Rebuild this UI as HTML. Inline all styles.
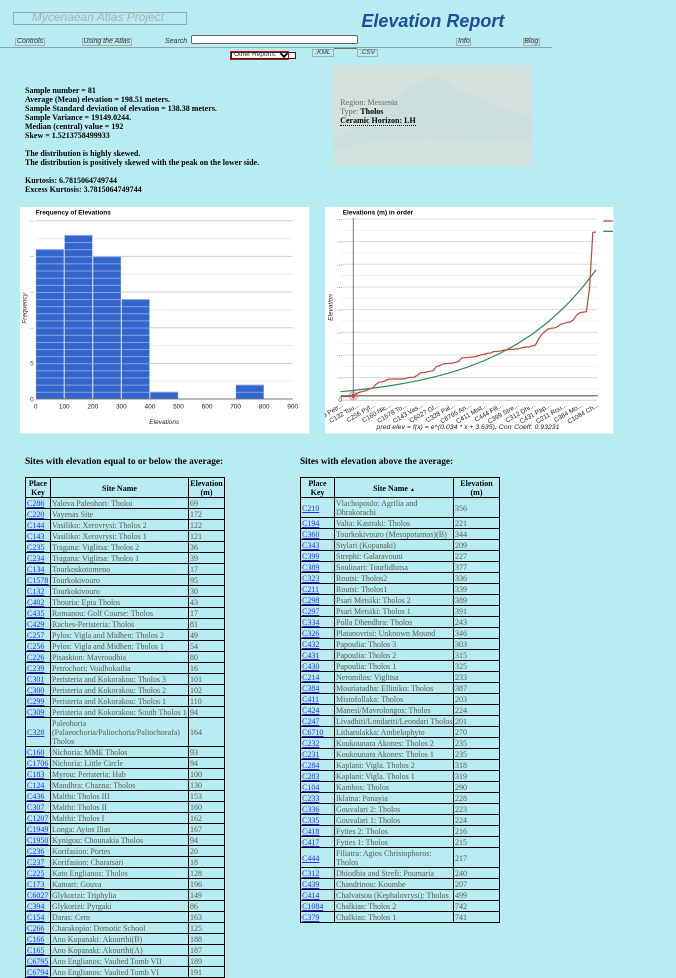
<!DOCTYPE html>
<html><head><meta charset="utf-8">
<style>
body{margin:0;width:676px;height:972px;overflow:hidden;background:#b7edf2;position:relative;font-family:"Liberation Serif",serif;}
.a{position:absolute;}
.btn{position:absolute;box-sizing:border-box;height:8.3px;border:1px solid #a3aeb0;font:italic 7px/6.3px "Liberation Sans",sans-serif;color:#333;text-align:center;white-space:nowrap;}
table.t{position:absolute;border-collapse:collapse;table-layout:fixed;font-family:"Liberation Serif",serif;font-size:8px;}
.t th,.t td{border:1px solid #000;padding:1px 1px 0 1px;line-height:9px;white-space:nowrap;overflow:hidden;vertical-align:middle;}
.t th{font-weight:bold;color:#000;text-align:center;}
.t td{color:#5d5848;text-align:left;}
.t td a{color:#2b2bee;text-decoration:underline;}
.h{position:absolute;font:bold 9.3px/10px "Liberation Serif",serif;color:#000;white-space:nowrap;}
</style></head><body>

<svg class="a" style="left:0;top:0" width="676" height="972" xmlns="http://www.w3.org/2000/svg">
<defs>
<pattern id="hb" patternUnits="userSpaceOnUse" x="0" y="399" width="300" height="7.13">
<rect x="0" y="0" width="300" height="7.13" fill="#3366cc"/>
<rect x="0" y="0" width="300" height="0.7" fill="#a3b9ea"/>
</pattern>
<clipPath id="cl"><rect x="325" y="207" width="288.3" height="226.3"/></clipPath>
</defs>

<!-- stats image -->
<rect x="333" y="65" width="199" height="101" fill="#d5e1dd"/>
<polygon points="333,140 352,128 372,112 392,100 410,86 425,80 437,74 448,82 462,92 478,98 495,104 512,110 532,116 532,166 333,166" fill="#c9dedc" opacity="0.8"/>
<polygon points="333,150 380,140 430,138 480,142 532,138 532,166 333,166" fill="#d2e2de" opacity="0.8"/>

<!-- histogram -->
<rect x="20" y="207" width="289.3" height="226.3" fill="#fff"/>
<g stroke-width="1">
<line x1="35.7" x2="292.7" y1="381.18" y2="381.18" stroke="#ececec"/>
<line x1="35.7" x2="292.7" y1="363.35" y2="363.35" stroke="#cfcfcf"/>
<line x1="35.7" x2="292.7" y1="345.53" y2="345.53" stroke="#ececec"/>
<line x1="35.7" x2="292.7" y1="327.7" y2="327.7" stroke="#cfcfcf"/>
<line x1="35.7" x2="292.7" y1="309.88" y2="309.88" stroke="#ececec"/>
<line x1="35.7" x2="292.7" y1="292.05" y2="292.05" stroke="#cfcfcf"/>
<line x1="35.7" x2="292.7" y1="274.23" y2="274.23" stroke="#ececec"/>
<line x1="35.7" x2="292.7" y1="256.4" y2="256.4" stroke="#cfcfcf"/>
<line x1="35.7" x2="292.7" y1="238.58" y2="238.58" stroke="#ececec"/>
<line x1="35.7" x2="292.7" y1="220.75" y2="220.75" stroke="#cfcfcf"/>
</g>
<g fill="url(#hb)" stroke="#a9bde9" stroke-width="0.4">
<rect x="36" y="249.27" width="27.8" height="149.73"/>
<rect x="64.56" y="235.01" width="27.8" height="163.99"/>
<rect x="93.12" y="256.4" width="27.8" height="142.6"/>
<rect x="121.68" y="299.18" width="27.8" height="99.82"/>
<rect x="150.24" y="391.87" width="27.8" height="7.13"/>
<rect x="235.92" y="384.74" width="27.8" height="14.26"/>
</g>
<line x1="35.7" x2="292.7" y1="399" y2="399" stroke="#777" stroke-width="1"/>
<g font-family="Liberation Sans, sans-serif" font-size="6.5" fill="#222" text-anchor="middle">
<text x="35.7" y="408.3">0</text><text x="64.26" y="408.3">100</text><text x="92.82" y="408.3">200</text>
<text x="121.38" y="408.3">300</text><text x="149.94" y="408.3">400</text><text x="178.5" y="408.3">500</text>
<text x="207.06" y="408.3">600</text><text x="235.62" y="408.3">700</text><text x="264.18" y="408.3">800</text>
<text x="292.74" y="408.3">900</text>
</g>
<g font-family="Liberation Sans, sans-serif" font-size="6.5" fill="#444" text-anchor="end">
<text x="33.8" y="401.3">0</text><text x="33.8" y="365.6">5</text>
<text x="33.8" y="328.4">..</text><text x="33.8" y="292.7">..</text><text x="33.8" y="257.1">..</text><text x="33.8" y="221.4">..</text>
</g>
<text x="35.7" y="214.7" font-family="Liberation Sans, sans-serif" font-size="6.5" font-weight="bold" fill="#000">Frequency of Elevations</text>
<text x="164.3" y="424" font-family="Liberation Sans, sans-serif" font-size="6.5" font-style="italic" fill="#222" text-anchor="middle">Elevations</text>
<text transform="translate(26.3,308.3) rotate(-90)" font-family="Liberation Sans, sans-serif" font-size="6.5" font-style="italic" fill="#222" text-anchor="middle">Frequency</text>

<!-- line chart -->
<rect x="325" y="207" width="288.3" height="226.3" fill="#fff"/>
<g stroke-width="1">
<line x1="340.7" x2="597.7" y1="388.97" y2="388.97" stroke="#f1f1f1"/>
<line x1="340.7" x2="597.7" y1="377.63" y2="377.63" stroke="#dcdcdc"/>
<line x1="340.7" x2="597.7" y1="366.3" y2="366.3" stroke="#f1f1f1"/>
<line x1="340.7" x2="597.7" y1="354.96" y2="354.96" stroke="#dcdcdc"/>
<line x1="340.7" x2="597.7" y1="343.63" y2="343.63" stroke="#f1f1f1"/>
<line x1="340.7" x2="597.7" y1="332.29" y2="332.29" stroke="#dcdcdc"/>
<line x1="340.7" x2="597.7" y1="320.96" y2="320.96" stroke="#f1f1f1"/>
<line x1="340.7" x2="597.7" y1="309.62" y2="309.62" stroke="#dcdcdc"/>
<line x1="340.7" x2="597.7" y1="298.29" y2="298.29" stroke="#f1f1f1"/>
<line x1="340.7" x2="597.7" y1="286.95" y2="286.95" stroke="#dcdcdc"/>
<line x1="340.7" x2="597.7" y1="275.62" y2="275.62" stroke="#f1f1f1"/>
<line x1="340.7" x2="597.7" y1="264.28" y2="264.28" stroke="#dcdcdc"/>
<line x1="340.7" x2="597.7" y1="252.95" y2="252.95" stroke="#f1f1f1"/>
<line x1="340.7" x2="597.7" y1="241.61" y2="241.61" stroke="#dcdcdc"/>
<line x1="340.7" x2="597.7" y1="230.28" y2="230.28" stroke="#f1f1f1"/>
<line x1="340.7" x2="597.7" y1="218.94" y2="218.94" stroke="#dcdcdc"/>
<line x1="340.7" x2="597.7" y1="400.3" y2="400.3" stroke="#cccccc"/>
</g>
<g font-family="Liberation Sans, sans-serif" font-size="6.5" fill="#444" text-anchor="end">
<text x="342" y="401.8">0</text>
<text x="342" y="378.6">...</text><text x="342" y="356">...</text><text x="342" y="333.3">...</text><text x="342" y="310.6">...</text>
<text x="342" y="288">...</text><text x="342" y="265.3">...</text><text x="342" y="242.6">...</text><text x="342" y="219.9">...</text>
</g>
<line x1="353.3" x2="353.3" y1="218" y2="399" stroke="#777" stroke-width="1"/>
<g transform="translate(340.57,400.3) scale(3.193,-0.2267)" fill="none">
<polyline vector-effect="non-scaling-stroke" stroke="#2f8a55" stroke-width="1.2" points="0,37.9 5,44.92 10,53.25 15,63.11 20,74.81 25,88.67 30,105.1 35,124.58 40,147.66 45,175.02 50,207.45 55,245.89 60,291.45 65,345.46 70,409.47 72,438.2 75,485.34 77,519.6 80,575.27"/>
<polyline vector-effect="non-scaling-stroke" stroke="#c0483a" stroke-width="1.2" stroke-linejoin="round" points="0,16 1,17 2,17 3,18 4,20 5,30 6,36 7,39 8,43 9,49 10,54 11,69 12,80 13,81 14,86 15,93 16,94 17,94 18,94 19,94 20,95 21,100 22,101 23,102 24,110 25,121 26,122 27,125 28,128 29,130 30,149 31,153 32,160 33,162 34,163 35,164 36,167 37,172 38,187 39,188 40,189 41,191 42,192 43,196 44,201 45,203 46,207 47,209 48,215 49,216 50,217 51,221 52,223 53,224 54,224 55,227 56,228 57,233 58,235 59,235 60,240 61,243 62,270 63,290 64,303 65,315 66,318 67,319 68,325 69,336 70,339 71,344 72,346 73,356 74,377 75,387 76,389 77,391 78,499 79,741 80,742"/>
</g>
<line x1="340.7" x2="597.7" y1="395.8" y2="395.8" stroke="#555" stroke-width="1.2"/>
<circle cx="353.3" cy="395.8" r="4" fill="none" stroke="#c0483a" stroke-opacity="0.45" stroke-width="1.4"/>
<circle cx="353.3" cy="395.8" r="2.2" fill="#c0483a"/>
<line x1="603.3" x2="613" y1="221" y2="221" stroke="#c0483a" stroke-width="1.3"/>
<line x1="603.3" x2="613" y1="231.3" y2="231.3" stroke="#2f8a55" stroke-width="1.3"/>
<text x="342.7" y="214.7" font-family="Liberation Sans, sans-serif" font-size="6.5" font-weight="bold" fill="#000">Elevations (m) in order</text>
<text transform="translate(332.5,307.5) rotate(-90)" font-family="Liberation Sans, sans-serif" font-size="6.5" font-style="italic" fill="#222" text-anchor="middle">Elevation</text>
<text x="468" y="429" font-family="Liberation Sans, sans-serif" font-size="6.3" font-style="italic" fill="#222" text-anchor="middle" textLength="183" lengthAdjust="spacingAndGlyphs">pred elev = f(x) = e^(0.034 * x + 3.635), Corr Coeff: 0.93231</text>
<g clip-path="url(#cl)" font-family="Liberation Sans, sans-serif" font-size="6.5" fill="#222" text-anchor="end">
<text transform="translate(343.6,406.5) rotate(-30)">C239 Petr...</text>
<text transform="translate(359.5,406.5) rotate(-30)">C132 Tou...</text>
<text transform="translate(375.5,406.5) rotate(-30)">C256 Pyl...</text>
<text transform="translate(391.5,406.5) rotate(-30)">C160 Nic...</text>
<text transform="translate(407.4,406.5) rotate(-30)">C1578 To...</text>
<text transform="translate(423.4,406.5) rotate(-30)">C143 Vas...</text>
<text transform="translate(439.4,406.5) rotate(-30)">C6027 Gl...</text>
<text transform="translate(455.3,406.5) rotate(-30)">C328 Pal...</text>
<text transform="translate(471.3,406.5) rotate(-30)">C6795 An...</text>
<text transform="translate(487.3,406.5) rotate(-30)">C411 Mist...</text>
<text transform="translate(503.2,406.5) rotate(-30)">C444 Fili...</text>
<text transform="translate(519.2,406.5) rotate(-30)">C399 Stre...</text>
<text transform="translate(535.2,406.5) rotate(-30)">C312 Dhi...</text>
<text transform="translate(551.1,406.5) rotate(-30)">C431 Pap...</text>
<text transform="translate(567.1,406.5) rotate(-30)">C211 Rou...</text>
<text transform="translate(583,406.5) rotate(-30)">C384 Mo...</text>
<text transform="translate(599,406.5) rotate(-30)">C1084 Ch...</text>
</g>
<!-- select chevron -->
</svg>

<!-- header -->
<div class="a" style="left:12.5px;top:11.7px;width:174px;height:13.6px;border:1px solid #98aab0;box-sizing:border-box;"></div>
<div class="a" style="left:12.5px;top:10.5px;width:171px;text-align:center;font:italic 12px/12px 'Liberation Sans',sans-serif;color:#a6b3b8;white-space:nowrap;">Mycenaean Atlas Project</div>
<div class="a" style="left:361.4px;top:12.3px;font:italic bold 18px/18px 'Liberation Sans',sans-serif;color:#1d4e9a;white-space:nowrap;">Elevation Report</div>

<div class="btn" style="left:15px;top:38px;width:30px;">Controls</div>
<div class="btn" style="left:82px;top:38px;width:49.5px;">Using the Atlas</div>
<div class="a" style="left:165px;top:38.1px;font:italic 7px/7px 'Liberation Sans',sans-serif;color:#333;">Search</div>
<div class="a" style="left:191px;top:35.3px;width:167px;height:9px;box-sizing:border-box;border:1px solid #666;border-radius:2px;background:#fff;"></div>
<div class="btn" style="left:456.4px;top:38px;width:15px;">Info</div>
<div class="btn" style="left:523px;top:38px;width:16.5px;">Blog</div>
<div class="a" style="left:0;top:47.2px;width:552px;height:1px;background:#8fa4a8;"></div>
<div class="a" style="left:334px;top:47.5px;width:23px;height:1.4px;background:#6a7072;"></div>

<div class="a" style="left:231.4px;top:51.6px;width:64.3px;height:7.8px;box-sizing:border-box;border:1px solid #222;background:#fff;"></div>
<div class="a" style="left:230.4px;top:51px;width:59px;height:9.3px;box-sizing:border-box;border:1.7px solid #e00000;"></div>
<div class="a" style="left:234px;top:52px;font:6.5px/6.5px 'Liberation Sans',sans-serif;color:#333;white-space:nowrap;">Other Reports:</div>
<svg class="a" style="left:279px;top:52px" width="11" height="7"><polyline points="1.5,1.2 5,4.8 8.5,1.2" fill="none" stroke="#000" stroke-width="1.8"/></svg>
<div class="btn" style="left:311.8px;top:49px;width:22.2px;font-size:6.5px;">.KML</div>
<div class="btn" style="left:357px;top:49px;width:21px;font-size:6.5px;">.CSV</div>

<!-- stats -->
<div class="a" style="left:25px;top:86.3px;font:bold 8px/9px 'Liberation Serif',serif;color:#000;white-space:nowrap;">Sample number = 81<br>Average (Mean) elevation = 198.51 meters.<br>Sample Standard deviation of elevation = 138.38 meters.<br>Sample Variance = 19149.0244.<br>Median (central) value = 192<br>Skew = 1.5213758499933<br><br>The distribution is highly skewed.<br>The distribution is positively skewed with the peak on the lower side.<br><br>Kurtosis: 6.7815064749744<br>Excess Kurtosis: 3.7815064749744</div>

<div class="a" style="left:340.2px;top:97.6px;font:8px/9px 'Liberation Serif',serif;color:#666;white-space:nowrap;">Region: Messenia<br>Type: <b style="color:#000">Tholos</b><br><b style="color:#000;border-bottom:1px dotted #000;">Ceramic Horizon: LH</b></div>

<!-- tables -->
<div class="h" style="left:25px;top:456.5px;">Sites with elevation equal to or below the average:</div>
<div class="h" style="left:300px;top:456.5px;">Sites with elevation above the average:</div>

<table class="t" style="left:25px;top:477px;width:199px;">
<colgroup><col style="width:25px"><col style="width:138px"><col style="width:36px"></colgroup>
<tr><th>Place<br>Key</th><th>Site Name</th><th>Elevation<br>(m)</th></tr>
<tr><td><a>C286</a></td><td>Yalova Paleohori: Tholoi</td><td>69</td></tr>
<tr><td><a>C220</a></td><td>Vayenas Site</td><td>172</td></tr>
<tr><td><a>C144</a></td><td>Vasiliko: Xerovrysi: Tholos 2</td><td>122</td></tr>
<tr><td><a>C143</a></td><td>Vasiliko: Xerovrysi: Tholos 1</td><td>121</td></tr>
<tr><td><a>C235</a></td><td>Tragana: Viglitsa: Tholos 2</td><td>36</td></tr>
<tr><td><a>C234</a></td><td>Tragana: Viglitsa: Tholos 1</td><td>39</td></tr>
<tr><td><a>C134</a></td><td>Tourkoskotomeno</td><td>17</td></tr>
<tr><td><a>C1578</a></td><td>Tourkokivouro</td><td>95</td></tr>
<tr><td><a>C132</a></td><td>Tourkokivouro</td><td>30</td></tr>
<tr><td><a>C402</a></td><td>Thouria: Epia Tholos</td><td>43</td></tr>
<tr><td><a>C435</a></td><td>Romanou: Golf Course: Tholos</td><td>17</td></tr>
<tr><td><a>C429</a></td><td>Raches-Peristeria: Tholos</td><td>81</td></tr>
<tr><td><a>C257</a></td><td>Pylos: Vigla and Midhen: Tholos 2</td><td>49</td></tr>
<tr><td><a>C256</a></td><td>Pylos: Vigla and Midhen: Tholos 1</td><td>54</td></tr>
<tr><td><a>C226</a></td><td>Pisaskion: Mavroudhia</td><td>80</td></tr>
<tr><td><a>C239</a></td><td>Petrochori: Voidhokoilia</td><td>16</td></tr>
<tr><td><a>C301</a></td><td>Peristeria and Kokorakou: Tholos 3</td><td>101</td></tr>
<tr><td><a>C300</a></td><td>Peristeria and Kokorakou: Tholos 2</td><td>102</td></tr>
<tr><td><a>C299</a></td><td>Peristeria and Kokorakou: Tholos 1</td><td>110</td></tr>
<tr><td><a>C309</a></td><td>Peristeria and Kokorakou: South Tholos 1</td><td>94</td></tr>
<tr><td><a>C328</a></td><td>Paleohoria<br>(Palaeochoria/Paliochoria/Paliochorafa)<br>Tholos</td><td>164</td></tr>
<tr><td><a>C160</a></td><td>Nichoria: MME Tholos</td><td>93</td></tr>
<tr><td><a>C1706</a></td><td>Nichoria: Little Circle</td><td>94</td></tr>
<tr><td><a>C183</a></td><td>Myrou: Peristeria: Hab</td><td>100</td></tr>
<tr><td><a>C124</a></td><td>Mandhra: Chazna: Tholos</td><td>130</td></tr>
<tr><td><a>C436</a></td><td>Malthi: Tholos III</td><td>153</td></tr>
<tr><td><a>C307</a></td><td>Malthi: Tholos II</td><td>160</td></tr>
<tr><td><a>C1207</a></td><td>Malthi: Tholos I</td><td>162</td></tr>
<tr><td><a>C1949</a></td><td>Longa: Ayios Ilias</td><td>167</td></tr>
<tr><td><a>C1950</a></td><td>Kynigou: Chounakia Tholos</td><td>94</td></tr>
<tr><td><a>C236</a></td><td>Korifasion: Portes</td><td>20</td></tr>
<tr><td><a>C237</a></td><td>Korifasion: Charatsari</td><td>18</td></tr>
<tr><td><a>C225</a></td><td>Kato Englianos: Tholos</td><td>128</td></tr>
<tr><td><a>C173</a></td><td>Kamari: Gouva</td><td>196</td></tr>
<tr><td><a>C6027</a></td><td>Glykorizi: Triphylia</td><td>149</td></tr>
<tr><td><a>C394</a></td><td>Glykorizi: Pyrgaki</td><td>86</td></tr>
<tr><td><a>C154</a></td><td>Daras: Cem</td><td>163</td></tr>
<tr><td><a>C266</a></td><td>Charakopio: Demotic School</td><td>125</td></tr>
<tr><td><a>C166</a></td><td>Ano Kopanaki: Akourthi(B)</td><td>188</td></tr>
<tr><td><a>C165</a></td><td>Ano Kopanaki: Akourthi(A)</td><td>187</td></tr>
<tr><td><a>C6795</a></td><td>Ano Englianos: Vaulted Tomb VII</td><td>189</td></tr>
<tr><td><a>C6794</a></td><td>Ano Englianos: Vaulted Tomb VI</td><td>191</td></tr>
</table>

<table class="t" style="left:300px;top:477px;width:199px;">
<colgroup><col style="width:34px"><col style="width:119px"><col style="width:46px"></colgroup>
<tr><th>Place<br>Key</th><th>Site Name <span style="font-size:5px;line-height:0;">&#9650;</span></th><th>Elevation<br>(m)</th></tr>
<tr><td><a>C210</a></td><td>Vlachopoulo: Agrilia and<br>Dhrakorachi</td><td>356</td></tr>
<tr><td><a>C194</a></td><td>Valta: Kastraki: Tholos</td><td>221</td></tr>
<tr><td><a>C360</a></td><td>Tourkokivouro (Mesopotamos)(B)</td><td>344</td></tr>
<tr><td><a>C343</a></td><td>Stylari (Kopanaki)</td><td>209</td></tr>
<tr><td><a>C399</a></td><td>Strephi: Galaravouni</td><td>227</td></tr>
<tr><td><a>C389</a></td><td>Soulinari: Tourlidhitsa</td><td>377</td></tr>
<tr><td><a>C323</a></td><td>Routsi: Tholos2</td><td>336</td></tr>
<tr><td><a>C211</a></td><td>Routsi: Tholos1</td><td>339</td></tr>
<tr><td><a>C298</a></td><td>Psari Metsiki: Tholos 2</td><td>389</td></tr>
<tr><td><a>C297</a></td><td>Psari Metsiki: Tholos 1</td><td>391</td></tr>
<tr><td><a>C334</a></td><td>Polla Dhendhra: Tholos</td><td>243</td></tr>
<tr><td><a>C326</a></td><td>Platanovrisi: Unknown Mound</td><td>346</td></tr>
<tr><td><a>C432</a></td><td>Papoulia: Tholos 3</td><td>303</td></tr>
<tr><td><a>C431</a></td><td>Papoulia: Tholos 2</td><td>315</td></tr>
<tr><td><a>C430</a></td><td>Papoulia: Tholos 1</td><td>325</td></tr>
<tr><td><a>C214</a></td><td>Neromilos: Viglitsa</td><td>233</td></tr>
<tr><td><a>C384</a></td><td>Mouriatadha: Elliniko: Tholos</td><td>387</td></tr>
<tr><td><a>C411</a></td><td>Mistofollaka: Tholos</td><td>203</td></tr>
<tr><td><a>C424</a></td><td>Manesi/Mavrolongos: Tholos</td><td>224</td></tr>
<tr><td><a>C247</a></td><td>Livadhiti/Londariti/Leondari Tholos</td><td>201</td></tr>
<tr><td><a>C6710</a></td><td>Litharolakka: Ambelophyto</td><td>270</td></tr>
<tr><td><a>C232</a></td><td>Koukounara Akones: Tholos 2</td><td>235</td></tr>
<tr><td><a>C231</a></td><td>Koukounara Akones: Tholos 1</td><td>235</td></tr>
<tr><td><a>C284</a></td><td>Kaplani: Vigla. Tholos 2</td><td>318</td></tr>
<tr><td><a>C283</a></td><td>Kaplani: Vigla. Tholos 1</td><td>319</td></tr>
<tr><td><a>C104</a></td><td>Kambos: Tholos</td><td>290</td></tr>
<tr><td><a>C233</a></td><td>Iklaina: Panayia</td><td>228</td></tr>
<tr><td><a>C336</a></td><td>Gouvalari 2: Tholos</td><td>223</td></tr>
<tr><td><a>C335</a></td><td>Gouvalari 1: Tholos</td><td>224</td></tr>
<tr><td><a>C418</a></td><td>Fyties 2: Tholos</td><td>216</td></tr>
<tr><td><a>C417</a></td><td>Fyties 1: Tholos</td><td>215</td></tr>
<tr><td><a>C444</a></td><td>Filiatra: Agios Christophoros:<br>Tholos</td><td>217</td></tr>
<tr><td><a>C312</a></td><td>Dhiodhia and Strefi: Poumaria</td><td>240</td></tr>
<tr><td><a>C439</a></td><td>Chandrinou: Koumbe</td><td>207</td></tr>
<tr><td><a>C414</a></td><td>Chalvatsou (Kephalovrysi): Tholos</td><td>499</td></tr>
<tr><td><a>C1084</a></td><td>Chalkias: Tholos 2</td><td>742</td></tr>
<tr><td><a>C379</a></td><td>Chalkias: Tholos 1</td><td>741</td></tr>
</table>

</body></html>
